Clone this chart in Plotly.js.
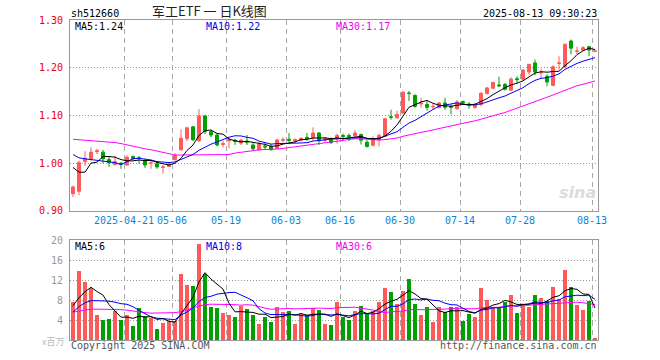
<!DOCTYPE html>
<html>
<head>
<meta charset="utf-8">
<script src="https://cdn.plot.ly/plotly-3.0.1.min.js"></script>
<style>html,body{margin:0;padding:0;background:#fff;}#chart{width:660px;height:360px;}</style>
</head>
<body>
<div id="chart"></div>
<script>
// ---- data ----
const dates = [
 '2025-04-08','2025-04-09','2025-04-10','2025-04-11','2025-04-14','2025-04-15','2025-04-16','2025-04-17','2025-04-18','2025-04-21',
 '2025-04-22','2025-04-23','2025-04-24','2025-04-25','2025-04-28','2025-04-29','2025-04-30','2025-05-06','2025-05-07','2025-05-08',
 '2025-05-09','2025-05-12','2025-05-13','2025-05-14','2025-05-15','2025-05-16','2025-05-19','2025-05-20','2025-05-21','2025-05-22',
 '2025-05-23','2025-05-26','2025-05-27','2025-05-28','2025-05-29','2025-05-30','2025-06-03','2025-06-04','2025-06-05','2025-06-06',
 '2025-06-09','2025-06-10','2025-06-11','2025-06-12','2025-06-13','2025-06-16','2025-06-17','2025-06-18','2025-06-19','2025-06-20',
 '2025-06-23','2025-06-24','2025-06-25','2025-06-26','2025-06-27','2025-06-30','2025-07-01','2025-07-02','2025-07-03','2025-07-04',
 '2025-07-07','2025-07-08','2025-07-09','2025-07-10','2025-07-11','2025-07-14','2025-07-15','2025-07-16','2025-07-17','2025-07-18',
 '2025-07-21','2025-07-22','2025-07-23','2025-07-24','2025-07-25','2025-07-28','2025-07-29','2025-07-30','2025-07-31','2025-08-01',
 '2025-08-04','2025-08-05','2025-08-06','2025-08-07','2025-08-08','2025-08-11','2025-08-12','2025-08-13'
];
const opens = [
 0.936,0.941,1.003,1.009,1.024,1.023,1.0075,0.997,1.000,0.996,
 1.014,1.011,1.005,1.000,0.9985,0.991,0.993,1.007,1.028,1.051,
 1.076,1.047,1.099,1.066,1.059,1.039,1.047,1.048,1.042,1.046,
 1.038,1.028,1.036,1.035,1.031,1.048,1.050,1.047,1.048,1.054,
 1.053,1.063,1.048,1.050,1.051,1.058,1.058,1.0575,1.060,1.044,
 1.0375,1.049,1.056,1.097,1.095,1.105,1.147,1.142,1.124,1.123,
 1.118,1.117,1.126,1.118,1.114,1.129,1.124,1.117,1.123,1.146,
 1.157,1.164,1.165,1.153,1.177,1.176,1.191,1.210,1.189,1.182,
 1.163,1.209,1.202,1.256,1.234,1.237,1.244,1.234
];
const highs = [
 0.953,1.005,1.025,1.033,1.030,1.028,1.0146,1.016,1.002,1.016,
 1.016,1.015,1.009,1.005,1.002,0.996,1.000,1.021,1.071,1.076,
 1.078,1.113,1.101,1.070,1.061,1.047,1.054,1.051,1.051,1.059,
 1.044,1.044,1.044,1.040,1.051,1.054,1.063,1.052,1.054,1.063,
 1.075,1.065,1.054,1.054,1.062,1.062,1.062,1.069,1.062,1.048,
 1.056,1.062,1.094,1.112,1.110,1.151,1.151,1.144,1.137,1.131,
 1.124,1.128,1.137,1.123,1.1325,1.131,1.128,1.1255,1.1485,1.160,
 1.171,1.181,1.168,1.180,1.182,1.197,1.208,1.217,1.198,1.186,
 1.205,1.224,1.251,1.259,1.244,1.245,1.246,1.236
];
const lows = [
 0.929,0.933,0.994,1.005,1.019,1.000,0.992,0.995,0.988,0.995,
 1.007,0.999,0.990,0.988,0.988,0.978,0.9925,1.006,1.026,1.046,
 1.046,1.044,1.061,1.054,1.035,1.033,1.031,1.038,1.038,1.038,
 1.026,1.026,1.028,1.026,1.030,1.044,1.044,1.042,1.045,1.047,
 1.047,1.038,1.044,1.040,1.041,1.048,1.046,1.055,1.039,1.0325,
 1.035,1.035,1.055,1.091,1.093,1.103,1.130,1.116,1.116,1.110,
 1.112,1.114,1.112,1.102,1.112,1.123,1.114,1.114,1.119,1.144,
 1.155,1.160,1.152,1.151,1.168,1.174,1.185,1.184,1.176,1.161,
 1.161,1.196,1.199,1.228,1.228,1.235,1.224,1.233
];
const closes = [
 0.950,1.001,1.010,1.023,1.026,1.009,1.001,1.003,0.998,1.0125,
 1.009,1.010,0.996,1.001,0.992,0.992,0.9985,1.016,1.052,1.074,
 1.049,1.099,1.066,1.059,1.038,1.041,1.049,1.046,1.0485,1.044,
 1.030,1.040,1.034,1.028,1.0485,1.049,1.048,1.049,1.052,1.051,
 1.063,1.047,1.052,1.043,1.058,1.056,1.056,1.063,1.048,1.035,
 1.051,1.058,1.093,1.096,1.102,1.1485,1.146,1.119,1.126,1.117,
 1.119,1.126,1.117,1.117,1.128,1.127,1.122,1.123,1.1465,1.1575,
 1.169,1.162,1.155,1.176,1.175,1.195,1.207,1.191,1.190,1.170,
 1.202,1.210,1.249,1.241,1.235,1.242,1.237,1.235
];
const volumes = [
 7.66,13.86,11.73,10.53,4.93,4.06,4.26,5.73,3.93,5.06,
 2.73,6.53,4.73,4.5,2.26,3.46,3.86,3.9,13.2,11.06,
 10.93,19.26,13.2,6.73,6.53,5.46,5.06,4.53,6.93,6.26,
 4.93,3.26,4.53,3.53,6.73,5.53,5.86,3.26,5.26,5.06,
 6.4,6.06,3.26,2.93,7.73,4.53,4.06,5.86,6.93,5.2,
 5.73,7.73,10.53,9.73,7.2,9.86,12.26,7.26,5.06,6.73,
 3.53,6.73,5.6,6.73,6.73,3.73,5.26,4.53,10.53,8.06,
 6.73,6.73,7.73,9.06,5.46,6.93,6.73,9.06,8.53,7.86,
 10.73,8.26,14.13,10.73,7.06,6.06,7.86,0.4
];
// moving-average values at the start of the window (they depend on earlier days)
const ma5Head  = [0.991,0.981,0.981,1.000];
const ma10Head = [1.018,1.011,1.009,1.0075,1.007,1.005,1.003,1.001,0.997];
const ma30Head = [1.050,1.049,1.049,1.048,1.047,1.046,1.044,1.043,1.041,1.038,1.035,1.032,1.030,1.028,1.025,
                  1.022,1.019,1.017,1.017,1.017,1.017,1.017,1.017,1.017,1.017,1.017,1.018,1.021,1.023];
const vma5Head  = [6.9,8.5,9.7,10.6];
const vma10Head = [5.6,6.7,7.5,7.9,7.9,7.9,7.8,7.6,7.3];
const vma30Head = [5.6,5.8,6.0,6.2,6.2,6.2,6.1,6.1,6.1,6.0,5.8,5.6,5.5,5.4,5.4,
                   5.4,5.4,5.5,5.7,6.0,6.5,6.8,7.1,7.2,7.2,7.2,7.2,7.1,7.0];
// labels shown in the volume pane of the reference
const volMaLabels = ['MA5:6','MA10:8','MA30:6'];
const tickDates = ['2025-04-21','2025-05-06','2025-05-19','2025-06-03','2025-06-16','2025-06-30','2025-07-14','2025-07-28','2025-08-13'];
const priceTicks = [0.9,1.0,1.1,1.2,1.3];
const volTicks = [4,8,12,16,20];

// ---- derived ----
const idx = dates.map((d,i)=>i);
function movAvg(arr, n, head){
  return arr.map((v,i)=>{
    if(i < head.length) return head[i];
    let s=0; for(let k=i-n+1;k<=i;k++) s+=arr[k]; return s/n;
  });
}
const ma5 = movAvg(closes,5,ma5Head), ma10 = movAvg(closes,10,ma10Head), ma30 = movAvg(closes,30,ma30Head);
const vma5 = movAvg(volumes,5,vma5Head), vma10 = movAvg(volumes,10,vma10Head), vma30 = movAvg(volumes,30,vma30Head);
const UP='#ff5a5a', DOWN='#00a000';
const barColors = closes.map((c,i)=> c>=opens[i] ? UP : DOWN);
const tickPos = tickDates.map(d=>dates.indexOf(d)-0.5);
const tickText = tickDates.map((d,k)=> k===0 ? d : d.slice(5));
const last = dates.length-1;

const mono = 'DejaVu Sans Mono, monospace';
const traces = [
  {type:'candlestick', x:idx, open:opens, high:highs, low:lows, close:closes, xaxis:'x', yaxis:'y',
   increasing:{line:{color:UP,width:1}, fillcolor:UP}, decreasing:{line:{color:DOWN,width:1}, fillcolor:DOWN},
   hoverinfo:'skip'},
  {type:'scatter', mode:'lines', x:idx, y:ma30, line:{color:'#ff00ff',width:1}, xaxis:'x', yaxis:'y', hoverinfo:'skip'},
  {type:'scatter', mode:'lines', x:idx, y:ma10, line:{color:'#0000ff',width:1}, xaxis:'x', yaxis:'y', hoverinfo:'skip'},
  {type:'scatter', mode:'lines', x:idx, y:ma5, line:{color:'#000000',width:1}, xaxis:'x', yaxis:'y', hoverinfo:'skip'},
  {type:'bar', x:idx, y:volumes, width:0.83, marker:{color:barColors}, xaxis:'x2', yaxis:'y2', hoverinfo:'skip'},
  {type:'scatter', mode:'lines', x:idx, y:vma30, line:{color:'#ff00ff',width:1}, xaxis:'x2', yaxis:'y2', hoverinfo:'skip'},
  {type:'scatter', mode:'lines', x:idx, y:vma10, line:{color:'#0000ff',width:1}, xaxis:'x2', yaxis:'y2', hoverinfo:'skip'},
  {type:'scatter', mode:'lines', x:idx, y:vma5, line:{color:'#000000',width:1}, xaxis:'x2', yaxis:'y2', hoverinfo:'skip'}
];

const L=70, R=598, T=20, B=340.3;
const px = v => (v-L)/(R-L);
const py = v => (B-v)/(B-T);
function ann(text,x,y,xa,color,size,family,extra){
  return Object.assign({xref:'paper',yref:'paper',x:px(x),y:py(y),xanchor:xa,yanchor:'middle',text:text,showarrow:false,
    font:{family:family||mono,size:size||10,color:color||'#000'}},extra||{});
}
const axBase = {showline:true, linecolor:'#999', linewidth:1, mirror:true, zeroline:false, ticks:'', fixedrange:true};
const layout = {
  width:660, height:360,
  margin:{l:L, r:660-R, t:T, b:360-B, pad:0},
  paper_bgcolor:'#fff', plot_bgcolor:'#fff', showlegend:false,
  boxgap:0.3, bargap:0,
  xaxis: Object.assign({}, axBase, {domain:[0,1], anchor:'y', range:[-0.5,last+0.5], tickmode:'array', tickvals:tickPos, ticktext:tickText,
    showgrid:true, gridcolor:'#a8a8a8', griddash:'5px,4px', gridwidth:1, rangeslider:{visible:false},
    tickfont:{family:mono,size:10,color:'#0a86d8'}}),
  yaxis: Object.assign({}, axBase, {domain:[py(211),1], anchor:'x', range:[0.9,1.3], tickmode:'array', tickvals:priceTicks,
    tickformat:'.2f', showgrid:true, gridcolor:'#999', griddash:'1px,2px', ticklabelstandoff:4,
    tickfont:{family:mono,size:10,color:'#ee0000'}}),
  xaxis2: Object.assign({}, axBase, {domain:[0,1], anchor:'y2', range:[-0.5,last+0.5], tickmode:'array', tickvals:tickPos,
    showticklabels:false, showgrid:true, gridcolor:'#a8a8a8', griddash:'5px,4px'}),
  yaxis2: Object.assign({}, axBase, {domain:[0,py(240.7)], anchor:'x2', range:[0,20], tickmode:'array', tickvals:volTicks,
    showgrid:true, gridcolor:'#999', griddash:'1px,2px', ticklabelstandoff:4,
    tickfont:{family:mono,size:10,color:'#999'}}),
  annotations:[
    ann('军工ETF&nbsp;一&nbsp;日K线图',209,10,'center','#222',13,'Noto Sans CJK SC'),
    ann('sh512660',69,13,'left','#000',10),
    ann('2025-08-13 09:30:23',599,13,'right','#000',10),
    ann('MA5:'+ma5[last].toFixed(2),73,27,'left','#000',10),
    ann('MA10:'+ma10[last].toFixed(2),204,27,'left','#0000ee',10),
    ann('MA30:'+ma30[last].toFixed(2),334,27,'left','#ee00ee',10),
    ann(volMaLabels[0],73,247,'left','#000',10),
    ann(volMaLabels[1],204,247,'left','#0000ee',10),
    ann(volMaLabels[2],334,247,'left','#ee00ee',10),
    ann('Copyright 2025 SINA.COM',69,345.5,'left','#555',10),
    ann('http://finance.sina.com.cn',599,346,'right','#555',10),
    ann('x百万',66,342,'right','#bbb',9,'Noto Sans CJK SC'),
    ann('<i><b>sina</b></i>',577,193,'center','#dcdcdc',16,'DejaVu Sans')
  ]
};
Plotly.newPlot('chart', traces, layout, {staticPlot:true, displayModeBar:false});
</script>
</body>
</html>
